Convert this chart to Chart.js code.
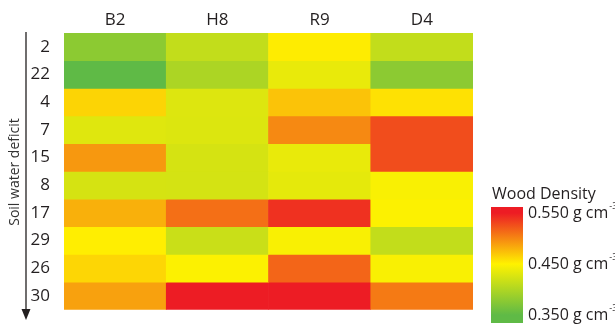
<!DOCTYPE html>
<html>
<head>
<meta charset="utf-8">
<script src="https://cdn.jsdelivr.net/npm/chart.js@4"></script>
<style>
  html, body { margin: 0; padding: 0; background: #fff; }
  canvas { display: block; }
</style>
</head>
<body>
<canvas id="heat" width="615" height="326"></canvas>
<script>
// clones (columns) and soil water deficit ranks (rows, top to bottom)
const clones = ['B2', 'H8', 'R9', 'D4'];
const deficits = ['2', '22', '4', '7', '15', '8', '17', '29', '26', '30'];

// wood density, g cm-3, one array per clone, in the order of deficits
const densB2 = [0.378, 0.350, 0.464, 0.430, 0.492, 0.424, 0.481, 0.452, 0.463, 0.488];
const densH8 = [0.412, 0.398, 0.429, 0.428, 0.424, 0.423, 0.511, 0.416, 0.448, 0.550];
const densR9 = [0.453, 0.436, 0.472, 0.499, 0.436, 0.434, 0.540, 0.446, 0.516, 0.550];
const densD4 = [0.412, 0.378, 0.458, 0.527, 0.527, 0.446, 0.448, 0.412, 0.446, 0.506];

// colour scale: green -> yellow -> red
const scaleValues = [0.350, 0.450, 0.550];
const scaleColors = [[95, 186, 70], [255, 242, 0], [237, 28, 36]];

const columns = [densB2, densH8, densR9, densD4];

function colorFor(v) {
  let i = v <= scaleValues[1] ? 0 : 1;
  let t = (v - scaleValues[i]) / (scaleValues[i + 1] - scaleValues[i]);
  t = Math.max(0, Math.min(1, t));
  const a = scaleColors[i], b = scaleColors[i + 1];
  const c = a.map((x, k) => Math.round(x + (b[k] - x) * t));
  return 'rgb(' + c.join(',') + ')';
}

const FONT = "'Open Sans', 'DejaVu Sans', sans-serif";
const INK = '#231f20';

// one dataset per row; each cell is a floating bar spanning [row, row+1]
const datasets = deficits.map((d, r) => ({
  label: d,
  data: clones.map(() => [r, r + 1]),
  density: columns.map(col => col[r]),
  backgroundColor: columns.map(col => colorFor(col[r])),
  borderWidth: 0,
  barPercentage: 1,
  categoryPercentage: 1,
  grouped: false
}));

// y axis title with arrow, and the colour bar legend
const decorations = {
  id: 'decorations',
  afterDraw(chart) {
    const ctx = chart.ctx;
    ctx.save();

    // arrow
    ctx.strokeStyle = INK;
    ctx.fillStyle = INK;
    ctx.lineWidth = 1.3;
    ctx.beginPath();
    ctx.moveTo(26, 32);
    ctx.lineTo(26, 311);
    ctx.stroke();
    ctx.beginPath();
    ctx.moveTo(21.5, 309);
    ctx.lineTo(30.5, 309);
    ctx.lineTo(26, 320);
    ctx.closePath();
    ctx.fill();

    // axis title
    ctx.translate(15, 172);
    ctx.rotate(-Math.PI / 2);
    ctx.font = '14px ' + FONT;
    ctx.textAlign = 'center';
    ctx.textBaseline = 'middle';
    ctx.fillStyle = '#333';
    ctx.fillText('Soil water deficit', 0, 0);
    ctx.setTransform(1, 0, 0, 1, 0, 0);

    // colour bar
    const barX = 491, barW = 32, barTop = 207, barBottom = 323;
    const yTop = 213, yBottom = 315;
    const yOf = v => yBottom - (v - scaleValues[0]) / (scaleValues[2] - scaleValues[0]) * (yBottom - yTop);
    const grad = ctx.createLinearGradient(0, barTop, 0, barBottom);
    const span = barBottom - barTop;
    grad.addColorStop(0, colorFor(scaleValues[2]));
    scaleValues.slice().reverse().forEach(v => {
      grad.addColorStop((yOf(v) - barTop) / span, colorFor(v));
    });
    grad.addColorStop(1, colorFor(scaleValues[0]));
    ctx.fillStyle = grad;
    ctx.fillRect(barX, barTop, barW, barBottom - barTop);

    ctx.fillStyle = INK;
    ctx.textAlign = 'left';
    ctx.textBaseline = 'alphabetic';
    ctx.font = '16px ' + FONT;
    ctx.fillText('Wood Density', 492, 199);

    scaleValues.forEach(v => {
      const y = yOf(v);
      ctx.font = '16px ' + FONT;
      ctx.textBaseline = 'middle';
      const txt = v.toFixed(3) + ' g cm';
      ctx.fillText(txt, 528, y);
      const w = ctx.measureText(txt).width;
      ctx.font = '9px ' + FONT;
      ctx.fillText('-3', 528 + w + 1, y - 7);
    });
    ctx.restore();
  }
};

new Chart(document.getElementById('heat'), {
  type: 'bar',
  data: { labels: clones, datasets: datasets },
  options: {
    responsive: false,
    animation: false,
    devicePixelRatio: 1,
    layout: { padding: { left: 0, top: 0, right: 142, bottom: 4 } },
    plugins: { legend: { display: false }, tooltip: { enabled: false } },
    scales: {
      x: {
        position: 'top',
        grid: { display: false },
        border: { display: false },
        ticks: { font: { family: FONT, size: 17 }, color: INK, padding: -5 },
        afterFit(scale) { scale.height = 33; }
      },
      y: {
        min: 0,
        max: deficits.length,
        reverse: true,
        grid: { display: false },
        border: { display: false },
        afterBuildTicks(scale) {
          scale.ticks = deficits.map((d, i) => ({ value: i + 0.5 }));
        },
        ticks: {
          autoSkip: false,
          font: { family: FONT, size: 17 },
          color: INK,
          padding: 6,
          callback: (v, i) => deficits[i]
        },
        afterFit(scale) { scale.width = 64; }
      }
    }
  },
  plugins: [decorations]
});
</script>
</body>
</html>
